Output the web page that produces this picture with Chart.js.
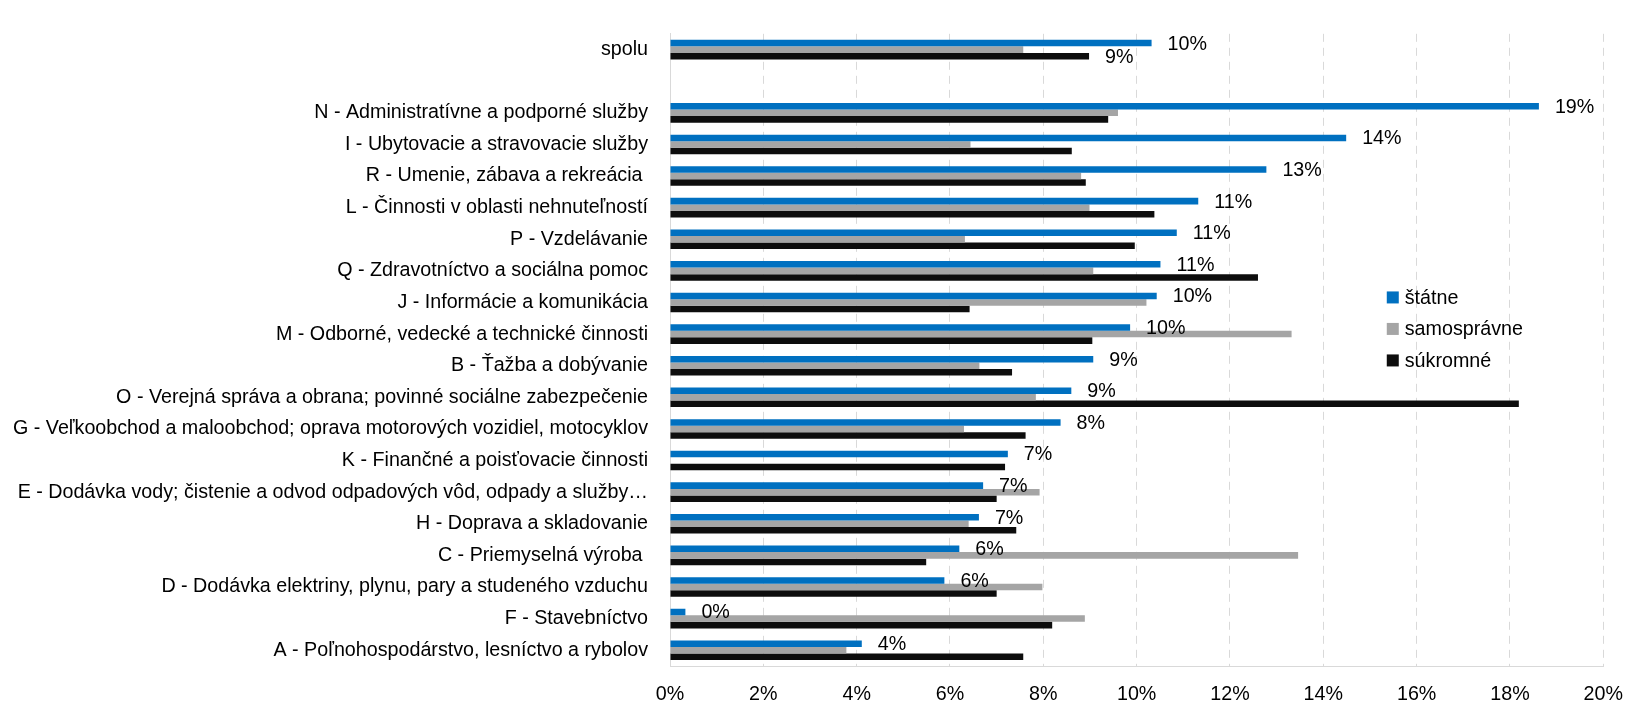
<!DOCTYPE html>
<html><head><meta charset="utf-8">
<script src="https://cdn.jsdelivr.net/npm/chart.js@4.4.1/dist/chart.umd.min.js"></script>
<style>html,body{margin:0;padding:0;background:#fff}#wrap{width:1640px;height:707px;position:relative}</style>
</head><body><div id="wrap"><canvas id="c"></canvas></div>
<script>
const categories = [
  "spolu",
  "",
  "N - Administratívne a podporné služby",
  "I - Ubytovacie a stravovacie služby",
  "R - Umenie, zábava a rekreácia ",
  "L - Činnosti v oblasti nehnuteľností",
  "P - Vzdelávanie",
  "Q - Zdravotníctvo a sociálna pomoc",
  "J - Informácie a komunikácia",
  "M - Odborné, vedecké a technické činnosti",
  "B - Ťažba a dobývanie",
  "O - Verejná správa a obrana; povinné sociálne zabezpečenie",
  "G - Veľkoobchod a maloobchod; oprava motorových vozidiel, motocyklov",
  "K - Finančné a poisťovacie činnosti",
  "E - Dodávka vody; čistenie a odvod odpadových vôd, odpady a služby…",
  "H - Doprava a skladovanie",
  "C - Priemyselná výroba ",
  "D - Dodávka elektriny, plynu, pary a studeného vzduchu",
  "F - Stavebníctvo",
  "A - Poľnohospodárstvo, lesníctvo a rybolov"
];
const seriesNames = ["štátne", "samosprávne", "súkromné"];
const statne      = [10.32, null, 18.62, 14.49, 12.78, 11.32, 10.86, 10.51, 10.43, 9.86, 9.07, 8.60, 8.37, 7.24, 6.71, 6.62, 6.20, 5.88, 0.33, 4.11];
const samospravne = [7.57, null, 9.60, 6.44, 8.81, 8.99, 6.32, 9.07, 10.21, 13.32, 6.63, 7.84, 6.30, null, 7.92, 6.40, 13.46, 7.98, 8.89, 3.78];
const sukromne    = [8.98, null, 9.39, 8.61, 8.91, 10.38, 9.96, 12.60, 6.42, 9.05, 7.33, 18.19, 7.62, 7.18, 7.00, 7.42, 5.49, 7.00, 8.19, 7.57];
const xTicks = [0, 2, 4, 6, 8, 10, 12, 14, 16, 18, 20];
// which bars carry a value label (series index -> category indices)
const labeledBars = {0: categories.map((c, i) => i), 2: [0]};

const colors = ["#0070C0", "#A5A5A5", "#0D0D0D"];
const FONT = "'Liberation Sans', Arial, sans-serif";
const FS = 19.7;

const valueLabels = {
  id: 'valueLabels',
  afterDatasetsDraw(chart) {
    const ctx = chart.ctx;
    ctx.save();
    ctx.font = FS + "px " + FONT;
    ctx.fillStyle = "#000";
    ctx.textBaseline = "middle";
    ctx.textAlign = "left";
    Object.keys(labeledBars).forEach(ds => {
      const meta = chart.getDatasetMeta(+ds);
      const data = chart.data.datasets[ds].data;
      labeledBars[ds].forEach(i => {
        const v = data[i];
        if (v === null || v === undefined) return;
        const el = meta.data[i];
        ctx.fillText(Math.round(v) + "%", el.x + 16, el.y + 1);
      });
    });
    ctx.restore();
  }
};

const innerLegend = {
  id: 'innerLegend',
  afterDraw(chart) {
    const ctx = chart.ctx;
    const a = chart.chartArea;
    const x0 = a.left + (a.right - a.left) * 0.768;
    const y0 = a.top + (a.bottom - a.top) * 0.417;
    const step = 31.5;
    ctx.save();
    ctx.font = FS + "px " + FONT;
    ctx.textBaseline = "middle";
    ctx.textAlign = "left";
    chart.data.datasets.forEach((d, i) => {
      const y = y0 + i * step;
      ctx.fillStyle = d.backgroundColor;
      ctx.fillRect(x0, y - 6, 12, 12);
      ctx.fillStyle = "#000";
      ctx.fillText(d.label, x0 + 18, y + 1);
    });
    ctx.restore();
  }
};

new Chart(document.getElementById('c'), {
  type: 'bar',
  data: {
    labels: categories,
    datasets: [
      {label: seriesNames[0], data: statne, backgroundColor: colors[0]},
      {label: seriesNames[1], data: samospravne, backgroundColor: colors[1]},
      {label: seriesNames[2], data: sukromne, backgroundColor: colors[2]}
    ]
  },
  options: {
    indexAxis: 'y',
    responsive: true,
    maintainAspectRatio: false,
    animation: false,
    devicePixelRatio: 1,
    layout: {padding: {left: 0, right: 31, top: 10, bottom: 0}},
    datasets: {bar: {categoryPercentage: 0.62, barPercentage: 1.0}},
    plugins: {legend: {display: false}, tooltip: {enabled: false}},
    scales: {
      x: {
        min: 0, max: 20,
        afterBuildTicks(s) { s.ticks = xTicks.map(v => ({value: v})); },
        afterFit(s) { s.height = 41; },
        ticks: {
          callback: v => v + "%",
          font: {family: FONT, size: FS},
          color: "#000",
          padding: 17,
          maxRotation: 0
        },
        grid: {color: "#D9D9D9", lineWidth: 1, drawTicks: false},
        border: {display: true, color: "#D9D9D9", dash: [8, 6]}
      },
      y: {
        afterFit(s) { s.width = 670; },
        ticks: {
          font: {family: FONT, size: FS},
          color: "#000",
          padding: 22,
          autoSkip: false
        },
        grid: {display: false, drawTicks: false},
        border: {display: true, color: "#D9D9D9"}
      }
    }
  },
  plugins: [valueLabels, innerLegend]
});
</script>
</body></html>
